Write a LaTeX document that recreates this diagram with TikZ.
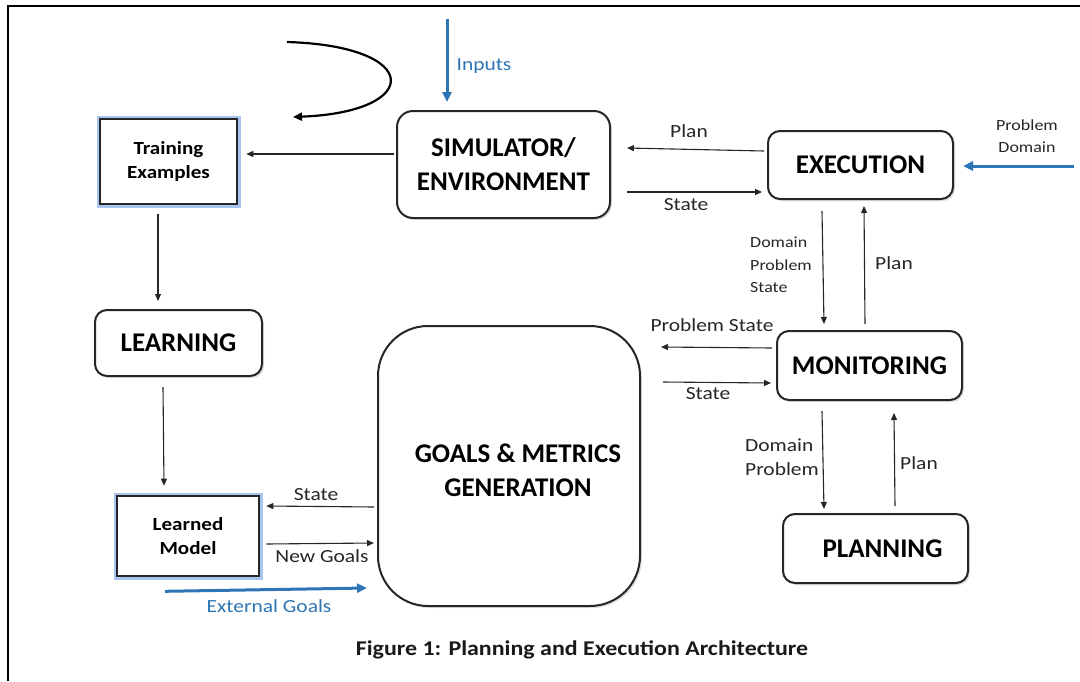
\documentclass[tikz,border=0pt]{standalone}
\usepackage{fontspec}
\setmainfont{Carlito}
\newfontfamily\labfont[FakeStretch=1.16]{Carlito}
\newfontfamily\capfont[FakeStretch=1.14]{Carlito}
\usetikzlibrary{arrows.meta,calc,shadows}
\definecolor{officeblue}{HTML}{2E75B6}
\definecolor{glowblue}{HTML}{A9C4EE}
\definecolor{darkline}{HTML}{262626}
\begin{document}
\begin{tikzpicture}[x=1pt,y=-1pt,
  rbox/.style={draw=darkline, line width=2pt, rounded corners=12pt, fill=white,
    drop shadow={opacity=0.25, shadow xshift=2pt, shadow yshift=-2pt},
    font=\fontsize{27}{34}\selectfont\bfseries, align=center, inner sep=0pt},
  gbox/.style={draw=darkline, line width=2.6pt, fill=white,
    preaction={draw=glowblue, line width=7pt},
    font=\capfont\fontsize{18.5}{24}\selectfont\bfseries, align=center, inner sep=0pt},
  arr/.style={draw=black!85, line width=1.1pt, -{Triangle[length=7pt,width=6pt]}},
  barr/.style={draw=officeblue, line width=3pt, -{Triangle[length=10pt,width=9pt]}},
  lab/.style={font=\labfont\fontsize{18.5}{24}\selectfont, text=black!85, inner sep=0pt},
  slab/.style={font=\labfont\fontsize{15.5}{22.5}\selectfont, text=black!85, inner sep=0pt, align=left},
  blab/.style={font=\labfont\fontsize{18.5}{22}\selectfont, text=officeblue, inner sep=0pt}
]
\useasboundingbox (0,0) rectangle (1080,681);
% frame
\draw[line width=2.2pt] (8,681) -- (8,6) -- (1080,6);

% boxes
\node[gbox, minimum width=137pt, minimum height=85pt] (train) at (168.5,161.5) {Training\\Examples};
\node[rbox, minimum width=213pt, minimum height=107pt, rounded corners=16pt] (sim) at (503.5,164.5) {SIMULATOR/\\ENVIRONMENT};
\node[rbox, minimum width=185pt, minimum height=68pt] (exec) at (860.5,165) {EXECUTION};
\node[rbox, minimum width=185pt, minimum height=69pt] (mon) at (869.5,365.5) {MONITORING};
\node[rbox, minimum width=185pt, minimum height=69pt] (plan) at (875.5,548.5) {\hspace*{14pt}PLANNING};
\node[rbox, minimum width=167pt, minimum height=66pt] (learn) at (178.5,343) {LEARNING};
\node[gbox, minimum width=142pt, minimum height=80pt] (learned) at (188,536) {Learned\\Model};
\node[rbox, minimum width=262pt, minimum height=280pt, rounded corners=50pt] (goals) at (509,466) {\rule{0pt}{27pt}\hspace*{18pt}GOALS \& METRICS\\\hspace*{18pt}GENERATION};

% loop arrow
\coordinate (loopA) at (287,42);
\coordinate (loopB) at (293,117);
\draw[line width=2.2pt, -{Triangle[length=9pt,width=8pt]}] (loopA) .. controls (423,46) and (423,112) .. (loopB);

% connectors
\draw[arr] ($(sim.west)+(-2,-10.5)$) -- ($(train.east)+(8,-7.5)$);
\draw[barr] ($(sim.north)+(-56.5,-91)$) -- ($(sim.north)+(-56.5,-8)$);
\draw[arr] ($(exec.west)+(-3,-14)$) -- ($(sim.east)+(16,-16.5)$);
\draw[arr] ($(sim.east)+(16,27.5)$) -- ($(exec.west)+(-5,27)$);
\draw[barr] ($(exec.east)+(120,1)$) -- ($(exec.east)+(9,1)$);
\draw[arr] ($(exec.south)+(-38.5,11)$) -- ($(mon.north)+(-45.5,-6)$);
\draw[arr] ($(mon.north)+(-4.5,-6)$) -- ($(exec.south)+(3.5,6)$);
\draw[arr] ($(mon.west)+(-4,-17.5)$) -- ($(goals.east)+(20,-119)$);
\draw[arr] ($(goals.east)+(22,-84)$) -- ($(mon.west)+(-5,17.5)$);
\draw[arr] ($(mon.south)+(-47.5,10)$) -- ($(plan.north)+(-51.5,-4)$);
\draw[arr] ($(plan.north)+(19.5,-7)$) -- ($(mon.south)+(24.5,12)$);
\draw[arr] ($(train.south)+(-10.5,9)$) -- ($(learn.north)+(-20.5,-8)$);
\draw[arr] ($(learn.south)+(-15.5,10)$) -- ($(learned.north)+(-24,-9)$);
\draw[arr] ($(goals.west)+(-3,41)$) -- ($(learned.east)+(6,-30)$);
\draw[arr] ($(learned.east)+(6,8)$) -- ($(goals.west)+(-3,77)$);
\draw[barr] ($(learned.south)+(-23,14)$) -- ($(goals.west)+(-10,122)$);

% labels
\node[blab] (lInputs) at (484,66) {Inputs};
\node[lab] (lPlan1) at (689,131) {Plan};
\node[lab] (lState1) at (686,205) {State};
\node[slab, align=center] (lPD) at (1027,136) {Problem\\Domain};
\node[slab, anchor=west] (lDPS) at (750,265) {Domain\\Problem\\State};
\node[lab] (lPlan2) at (894,263) {Plan};
\node[lab] (lPS) at (712,325) {Problem State};
\node[lab] (lState2) at (708,394) {State};
\node[lab, align=left, anchor=west] (lDP) at (745,457) {Domain\\Problem};
\node[lab] (lPlan3) at (919,463) {Plan};
\node[lab] (lState3) at (316,495) {State};
\node[lab] (lNG) at (322,556) {New Goals};
\node[blab] (lEG) at (269,606) {External Goals};
\node[font=\capfont\fontsize{21}{25}\selectfont\bfseries, text=black!90, inner sep=0pt] (caption) at (582,650) {Figure 1: Planning and Execution Architecture};
\end{tikzpicture}
\end{document}
